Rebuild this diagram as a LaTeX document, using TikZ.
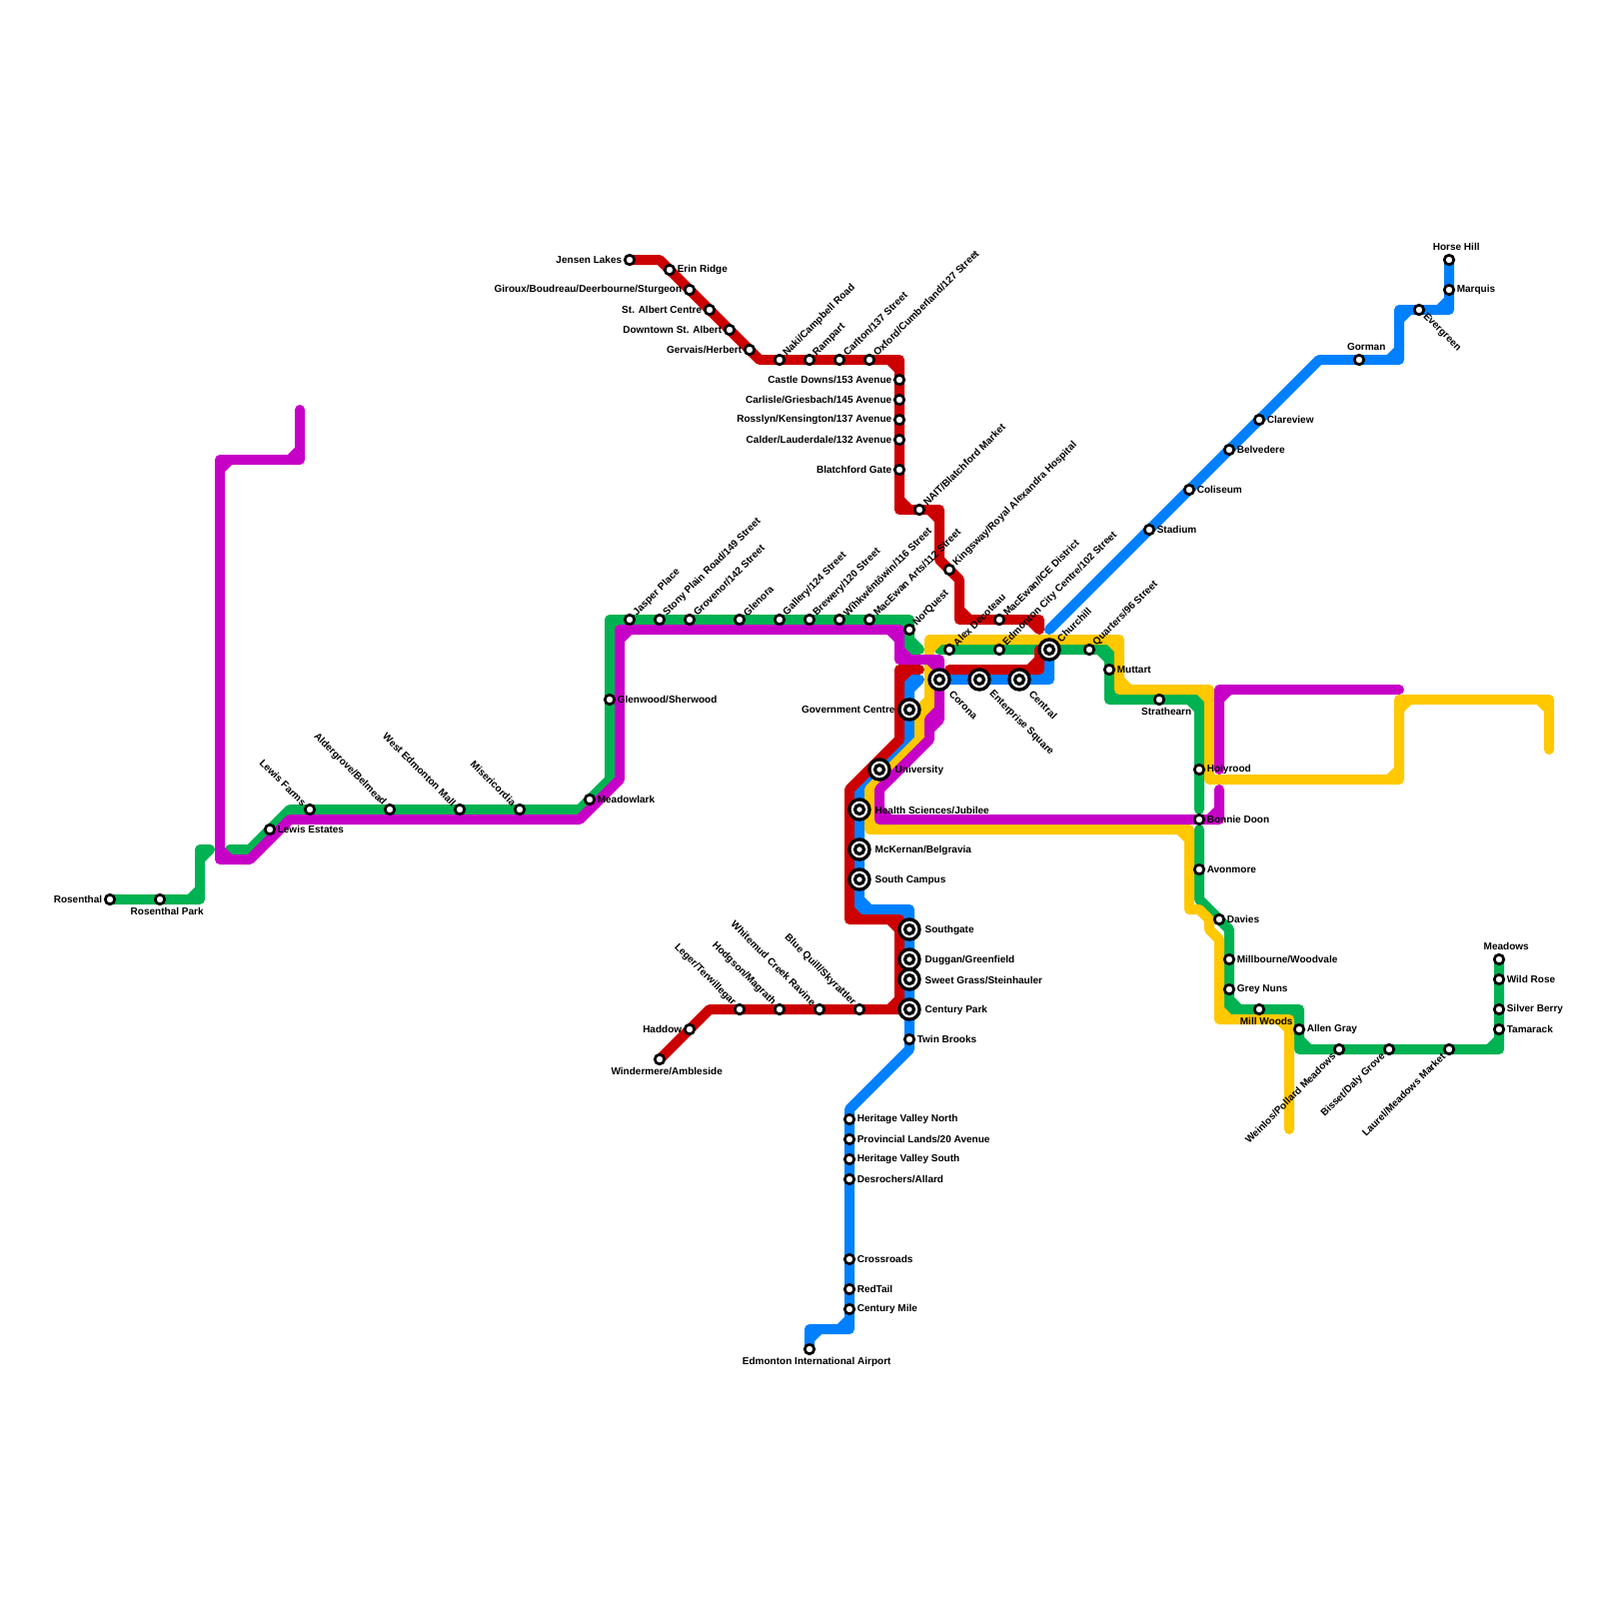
\documentclass[tikz,border=0pt]{standalone}
\usepackage{fontspec}
\setmainfont{Liberation Sans}
\usepackage{xcolor}
\usepackage{tikz}
\definecolor{linegreen}{HTML}{00B251}
\definecolor{lineblue}{HTML}{0080FF}
\definecolor{linered}{HTML}{CC0000}
\definecolor{lineyellow}{HTML}{FFC800}
\definecolor{linepurple}{HTML}{C700C7}
\pgfdeclarelayer{lines}
\pgfsetlayers{lines,main}
\begin{document}
\begin{tikzpicture}[x=0.1mm, y=-0.1mm,
  metro/.style={line width=1mm, line cap=round, line join=round},
  stn/.style={circle, draw=black, fill=white, line width=0.27mm, minimum size=0.95mm, inner sep=0pt},
  hub/.style={circle, draw=black, fill=white, line width=0.33mm, minimum size=2.02mm, inner sep=0pt,
              path picture={\draw[line width=0.32mm] (path picture bounding box.center) circle (4.5);}},
  every label/.style={font=\bfseries\fontsize{2.85pt}{3.2pt}\selectfont, inner sep=0.1mm},
  lblNE/.style={rotate=45, anchor=west},
  lblNW/.style={rotate=-45, anchor=east},
  lblSE/.style={rotate=-45, anchor=west},
  lblSW/.style={rotate=45, anchor=east},
  lblUp/.style={xshift=0.72mm, yshift=0.2mm},
  lblDn/.style={xshift=0.72mm},
  hubE/.style={xshift=0.22mm, yshift=-0.08mm},
  hubW/.style={xshift=-0.1mm},
  hubSE/.style={lblSE, xshift=0.4mm, yshift=-0.1mm}]
\useasboundingbox (0,0) rectangle (1600,1600);
% west end
\node[stn, label={left:Rosenthal}] (rosenthal) at (110,900) {};
\node[stn, label={[lblDn]below:Rosenthal Park}] (rosenthalpark) at (160,900) {};
\node[stn, label={right:Lewis Estates}] (lewisest) at (270,830) {};
\node[stn, label={[lblNW]135:Lewis Farms}] (lewisfarms) at (310,810) {};
\node[stn, label={[lblNW]135:Aldergrove/Belmead}] (aldergrove) at (390,810) {};
\node[stn, label={[lblNW]135:West Edmonton Mall}] (wem) at (460,810) {};
\node[stn, label={[lblNW]135:Misericordia}] (misericordia) at (520,810) {};
\node[stn, label={right:Meadowlark}] (meadowlark) at (590,800) {};
\node[stn, label={right:Glenwood/Sherwood}] (glenwood) at (610,700) {};
% 
\node[stn, label={[lblNE]45:Jasper Place}] (jasper) at (630,620) {};
\node[stn, label={[lblNE]45:Stony Plain Road/149 Street}] (stony) at (660,620) {};
\node[stn, label={[lblNE]45:Grovenor/142 Street}] (grovenor) at (690,620) {};
\node[stn, label={[lblNE]45:Glenora}] (glenora) at (740,620) {};
\node[stn, label={[lblNE]45:Gallery/124 Street}] (gallery) at (780,620) {};
\node[stn, label={[lblNE]45:Brewery/120 Street}] (brewery) at (810,620) {};
\node[stn, label={[lblNE]45:Wîhkwêntôwin/116 Street}] (wihk) at (840,620) {};
\node[stn, label={[lblNE]45:MacEwan Arts/112 Street}] (arts) at (870,620) {};
\node[stn, label={[lblNE]45:NorQuest}] (norquest) at (910,630) {};
% north
\node[stn, label={left:Jensen Lakes}] (jensen) at (630,260) {};
\node[stn, label={right:Erin Ridge}] (erin) at (670,270) {};
\node[stn, label={left:Giroux/Boudreau/Deerbourne/Sturgeon}] (giroux) at (690,290) {};
\node[stn, label={left:St. Albert Centre}] (stalbert) at (710,310) {};
\node[stn, label={left:Downtown St. Albert}] (downtown) at (730,330) {};
\node[stn, label={left:Gervais/Herbert}] (gervais) at (750,350) {};
\node[stn, label={[lblNE]45:Naki/Campbell Road}] (naki) at (780,360) {};
\node[stn, label={[lblNE]45:Rampart}] (rampart) at (810,360) {};
\node[stn, label={[lblNE]45:Carlton/137 Street}] (carlton) at (840,360) {};
\node[stn, label={[lblNE]45:Oxford/Cumberland/127 Street}] (oxford) at (870,360) {};
\node[stn, label={left:Castle Downs/153 Avenue}] (castle) at (900,380) {};
\node[stn, label={left:Carlisle/Griesbach/145 Avenue}] (carlisle) at (900,400) {};
\node[stn, label={left:Rosslyn/Kensington/137 Avenue}] (rosslyn) at (900,420) {};
\node[stn, label={left:Calder/Lauderdale/132 Avenue}] (calder) at (900,440) {};
\node[stn, label={left:Blatchford Gate}] (blatchford) at (900,470) {};
\node[stn, label={[lblNE]45:NAIT/Blatchford Market}] (nait) at (920,510) {};
\node[stn, label={[lblNE]45:Kingsway/Royal Alexandra Hospital}] (kingsway) at (950,570) {};
% downtown
\node[stn, label={[lblNE]45:Alex Decoteau}] (alex) at (950,650) {};
\node[stn, label={[lblNE]45:MacEwan/ICE District}] (icedistrict) at (1000,620) {};
\node[stn, label={[lblNE]45:Edmonton City Centre/102 Street}] (citycentre) at (1000,650) {};
\node[hub, label={[lblNE]45:Churchill}] (churchill) at (1050,650) {};
\node[stn, label={[lblNE]45:Quarters/96 Street}] (quarters) at (1090,650) {};
\node[hub, label={[hubSE]-45:Corona}] (corona) at (940,680) {};
\node[hub, label={[hubSE]-45:Enterprise Square}] (enterprise) at (980,680) {};
\node[hub, label={[hubSE]-45:Central}] (central) at (1020,680) {};
\node[hub, label={[hubW]left:Government Centre}] (government) at (910,710) {};
\node[hub, label={[hubE]right:University}] (university) at (880,770) {};
\node[hub, label={[hubE]right:Health Sciences/Jubilee}] (health) at (860,810) {};
\node[hub, label={[hubE]right:McKernan/Belgravia}] (mckernan) at (860,850) {};
\node[hub, label={[hubE]right:South Campus}] (southcampus) at (860,880) {};
\node[hub, label={[hubE]right:Southgate}] (southgate) at (910,930) {};
\node[hub, label={[hubE]right:Duggan/Greenfield}] (duggan) at (910,960) {};
\node[hub, label={[hubE]right:Sweet Grass/Steinhauler}] (sweetgrass) at (910,980) {};
\node[hub, label={[hubE]right:Century Park}] (centurypark) at (910,1010) {};
% southwest
\node[stn, label={[lblNW]135:Blue Quill/Skyrattler}] (bluequill) at (860,1010) {};
\node[stn, label={[lblNW]135:Whitemud Creek Ravine}] (whitemud) at (820,1010) {};
\node[stn, label={[lblNW]135:Hodgson/Magrath}] (hodgson) at (780,1010) {};
\node[stn, label={[lblNW]135:Leger/Terwillegar}] (leger) at (740,1010) {};
\node[stn, label={left:Haddow}] (haddow) at (690,1030) {};
\node[stn, label={[lblDn]below:Windermere/Ambleside}] (windermere) at (660,1060) {};
% south
\node[stn, label={right:Twin Brooks}] (twinbrooks) at (910,1040) {};
\node[stn, label={right:Heritage Valley North}] (hvnorth) at (850,1120) {};
\node[stn, label={right:Provincial Lands/20 Avenue}] (provincial) at (850,1140) {};
\node[stn, label={right:Heritage Valley South}] (hvsouth) at (850,1160) {};
\node[stn, label={right:Desrochers/Allard}] (desrochers) at (850,1180) {};
\node[stn, label={right:Crossroads}] (crossroads) at (850,1260) {};
\node[stn, label={right:RedTail}] (redtail) at (850,1290) {};
\node[stn, label={right:Century Mile}] (centurymile) at (850,1310) {};
\node[stn, label={[lblDn]below:Edmonton International Airport}] (airport) at (810,1350) {};
% northeast
\node[stn, label={right:Stadium}] (stadium) at (1150,530) {};
\node[stn, label={right:Coliseum}] (coliseum) at (1190,490) {};
\node[stn, label={right:Belvedere}] (belvedere) at (1230,450) {};
\node[stn, label={right:Clareview}] (clareview) at (1260,420) {};
\node[stn, label={[lblUp]above:Gorman}] (gorman) at (1360,360) {};
\node[stn, label={[lblSE]-45:Evergreen}] (evergreen) at (1420,310) {};
\node[stn, label={right:Marquis}] (marquis) at (1450,290) {};
\node[stn, label={[lblUp]above:Horse Hill}] (horsehill) at (1450,260) {};
% southeast
\node[stn, label={right:Muttart}] (muttart) at (1110,670) {};
\node[stn, label={[lblDn]below:Strathearn}] (strathearn) at (1160,700) {};
\node[stn, label={right:Holyrood}] (holyrood) at (1200,770) {};
\node[stn, label={right:Bonnie Doon}] (bonnie) at (1200,820) {};
\node[stn, label={right:Avonmore}] (avonmore) at (1200,870) {};
\node[stn, label={right:Davies}] (davies) at (1220,920) {};
\node[stn, label={right:Millbourne/Woodvale}] (millbourne) at (1230,960) {};
\node[stn, label={right:Grey Nuns}] (greynuns) at (1230,990) {};
\node[stn, label={[lblDn]below:Mill Woods}] (millwoods) at (1260,1010) {};
\node[stn, label={right:Allen Gray}] (allengray) at (1300,1030) {};
\node[stn, label={[lblSW]225:Weinlos/Pollard Meadows}] (weinlos) at (1340,1050) {};
\node[stn, label={[lblSW]225:Bisset/Daly Grove}] (bisset) at (1390,1050) {};
\node[stn, label={[lblSW]225:Laurel/Meadows Market}] (laurel) at (1450,1050) {};
\node[stn, label={right:Tamarack}] (tamarack) at (1500,1030) {};
\node[stn, label={right:Silver Berry}] (silverberry) at (1500,1010) {};
\node[stn, label={right:Wild Rose}] (wildrose) at (1500,980) {};
\node[stn, label={[lblUp]above:Meadows}] (meadows) at (1500,960) {};
\begin{pgfonlayer}{lines}
% green
\draw[metro, linegreen] (rosenthal.center) -- (200,900) -- (200,850) -- (210,850)
  (190,900) -- (200,890) (200,860) -- (210,850);
\draw[metro, linegreen] (230,850) -- (250,850) -- (290,810) -- (580,810) -- (610,780)
  -- (610,620) -- (910,620) -- (910,650) -- (920,650)
  (610,630) -- (620,620) (900,620) -- (910,630) (910,640) -- (920,650);
\draw[metro, linegreen] (alex.center) -- (940,650) -- (1110,650) -- (1110,700) -- (1200,700) -- (1200,810)
  (1100,650) -- (1110,660) (1110,690) -- (1120,700) (1190,700) -- (1200,710);
\draw[metro, linegreen] (1200,830) -- (1200,900) -- (1230,930) -- (1230,1010) -- (1300,1010)
  -- (1300,1050) -- (1500,1050) -- (meadows.center)
  (1230,1000) -- (1240,1010) (1290,1010) -- (1300,1020) (1300,1040) -- (1310,1050) (1490,1050) -- (1500,1040);
% blue
\draw[metro, lineblue] (920,680) -- (910,680) -- (910,740) -- (860,790) -- (860,910) -- (910,910)
  -- (twinbrooks.center) -- (910,1050) -- (850,1110) -- (850,1330) -- (810,1330) -- (airport.center)
  (910,690) -- (920,680) (860,900) -- (870,910) (900,910) -- (910,920) (840,1330) -- (850,1320) (810,1340) -- (820,1330);
\draw[metro, lineblue] (corona.center) -- (1050,680) -- (churchill.center) (1040,680) -- (1050,670);
\draw[metro, lineblue] (1050,630) -- (1320,360) -- (1400,360) -- (1400,310) -- (1450,310) -- (horsehill.center)
  (1390,360) -- (1400,350) (1400,320) -- (1410,310) (1440,310) -- (1450,300);
% red
\draw[metro, linered] (jensen.center) -- (660,260) -- (760,360) -- (900,360) -- (900,510) -- (940,510)
  -- (940,560) -- (960,580) -- (960,620) -- (1040,620) -- (1040,630)
  (890,360) -- (900,370) (900,500) -- (910,510) (930,510) -- (940,520) (960,610) -- (970,620) (1030,620) -- (1040,630);
\draw[metro, linered] (950,670) -- (1040,670) -- (1040,650) (1030,670) -- (1040,660);
\draw[metro, linered] (920,670) -- (900,670) -- (900,740) -- (850,790) -- (850,920) -- (900,920)
  -- (900,1010) -- (710,1010) -- (windermere.center)
  (900,680) -- (910,670) (850,910) -- (860,920) (890,920) -- (900,930) (890,1010) -- (900,1000);
% yellow
\draw[metro, lineyellow] (1550,750) -- (1550,700) -- (1400,700) -- (1400,780) -- (1210,780) -- (1210,690)
  -- (1120,690) -- (1120,640) -- (930,640) -- (930,710) -- (920,710) -- (920,740) -- (870,790)
  -- (870,830) -- (1190,830) -- (1190,910) -- (1200,910) -- (1210,920) -- (1210,930) -- (1220,940)
  -- (1220,1020) -- (1290,1020) -- (1290,1130)
  (1540,700) -- (1550,710) (1400,710) -- (1410,700) (1390,780) -- (1400,770) (1200,690) -- (1210,700)
  (1120,680) -- (1130,690) (1110,640) -- (1120,650) (930,650) -- (940,640)
  (930,700) -- (920,710) (920,720) -- (930,710) (870,820) -- (880,830) (1180,830) -- (1190,840)
  (1220,1010) -- (1230,1020) (1280,1020) -- (1290,1030);
% purple
\draw[metro, linepurple] (300,410) -- (300,460) -- (220,460) -- (220,860) -- (250,860) -- (290,820)
  -- (580,820) -- (620,780) -- (620,630) -- (900,630) -- (900,660) -- (940,660) -- (940,720) -- (930,720)
  -- (930,740) -- (880,790) -- (880,820) -- (1220,820) -- (1220,790)
  (290,460) -- (300,450) (220,470) -- (230,460) (220,850) -- (230,860) (620,640) -- (630,630)
  (890,630) -- (900,640) (900,650) -- (910,660) (930,660) -- (940,670)
  (930,720) -- (940,710) (940,720) -- (930,730) (880,810) -- (890,820) (1210,820) -- (1220,810);
\draw[metro, linepurple] (1220,770) -- (1220,690) -- (1400,690) (1220,700) -- (1230,690);
\end{pgfonlayer}
\end{tikzpicture}
\end{document}
